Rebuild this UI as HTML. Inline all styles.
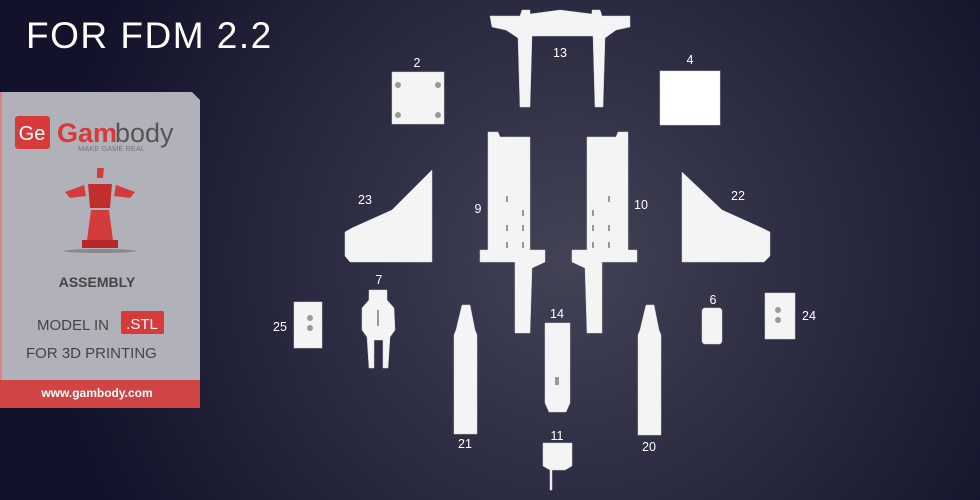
<!DOCTYPE html>
<html><head><meta charset="utf-8"><style>
body{margin:0;width:980px;height:500px;overflow:hidden;background:#15162a;font-family:"Liberation Sans",sans-serif}
svg{display:block}
</style></head><body>
<svg width="980" height="500" viewBox="0 0 980 500" xmlns="http://www.w3.org/2000/svg">
<defs>
<radialGradient id="bg" cx="570" cy="260" r="520" gradientUnits="userSpaceOnUse">
<stop offset="0" stop-color="#434356"/><stop offset="0.5" stop-color="#2a2a40"/><stop offset="1" stop-color="#12132a"/>
</radialGradient>
</defs>
<rect width="980" height="500" fill="url(#bg)"/>
<text x="26" y="48" fill="#fff" font-size="37" letter-spacing="1.5" font-family="Liberation Sans">FOR FDM 2.2</text>

<!-- left panel -->
<path d="M0 92 H192 L200 100 V400 L193 408 H0 Z" fill="#b1b2b9"/>
<rect x="0" y="92" width="2" height="316" fill="#e08080"/>
<rect x="0" y="380" width="200" height="28" fill="#d04444"/>
<text x="97" y="397" fill="#fff" font-size="12" font-weight="bold" text-anchor="middle">www.gambody.com</text>
<rect x="15" y="116" width="35" height="33" rx="3" fill="#d63a3a"/>
<text x="32" y="140" fill="#fff" font-size="20" text-anchor="middle">Ge</text>
<text x="57" y="142" fill="#d63a3a" font-size="27" font-weight="bold">Gam</text>
<text x="115" y="142" fill="#555" font-size="27">body</text>
<text x="78" y="151" fill="#777" font-size="7.5">MAKE GAME REAL</text>
<!-- figure -->
<g fill="#d43c3c">
<path d="M97 168 H104 L103 178 H97 Z"/>
<path d="M65 192 L84 185 L86 196 L70 198 Z"/>
<path d="M135 192 L116 185 L114 196 L130 198 Z"/>
<path d="M88 184 H112 L110 208 H90 Z" fill="#c02e2e"/>
<path d="M91 210 H109 L113 240 H87 Z"/>
<rect x="82" y="240" width="36" height="8" fill="#b82828"/>
</g>
<ellipse cx="100" cy="251" rx="36" ry="2" fill="#888"/>
<text x="97" y="287" fill="#444" font-size="14" font-weight="bold" text-anchor="middle">ASSEMBLY</text>
<text x="37" y="330" fill="#444" font-size="15">MODEL IN</text>
<rect x="121" y="311" width="43" height="23" rx="2" fill="#d63a3a"/>
<text x="142" y="329" fill="#fff" font-size="15" text-anchor="middle">.STL</text>
<text x="26" y="358" fill="#444" font-size="15">FOR 3D PRINTING</text>

<g fill="#f4f4f4" stroke="#d8d8d8" stroke-width="0.5">
<path d="M490 16 L520 16 L522 10 L530 10 L530 14 L560 10 L592 14 L592 10 L600 10 L602 16 L630 16 L630 27 L616 30 L605 38 L603 107 L595 107 L593 36 L532 36 L530 107 L520 107 L518 38 L506 30 L492 27 Z"/>
<rect x="392" y="72" width="52" height="52"/>
<rect x="660" y="71" width="60" height="54" fill="#fff"/>
<path d="M488 132 L498 132 L500 137 L530 137 L530 250 L545 250 L545 262 L532 268 L530 333 L515 333 L515 262 L480 262 L480 250 L488 250 Z"/>
<path d="M628 132 L618 132 L616 137 L587 137 L587 250 L572 250 L572 262 L585 268 L587 333 L602 333 L602 262 L637 262 L637 250 L628 250 Z"/>
<path d="M432 170 L432 262 L350 262 L345 256 L345 232 L352 228 L392 210 Z"/>
<path d="M682 172 L682 262 L764 262 L770 256 L770 232 L762 228 L722 210 Z"/>
<path d="M369 290 H387 V300 L394 308 L395 330 L390 337 L388 368 L383 368 L383 340 L374 340 L374 368 L369 368 L367 337 L362 330 L362 308 L369 300 Z"/>
<rect x="294" y="302" width="28" height="46"/>
<rect x="765" y="293" width="30" height="46"/>
<rect x="702" y="308" width="20" height="36" rx="3"/>
<path d="M462 305 L470 305 L475 330 L477 335 V434 H454 V335 L456 330 Z"/>
<path d="M646 305 L654 305 L659 330 L661 335 V435 H638 V335 L640 330 Z"/>
<path d="M545 323 H570 V403 L566 412 H549 L545 403 Z"/>
<path d="M543 443 H572 V466 L565 470 H552 V490 H550 V470 L543 466 Z"/>
</g>
<g fill="#999">
<circle cx="398" cy="85" r="3"/><circle cx="438" cy="85" r="3"/><circle cx="398" cy="115" r="3"/><circle cx="438" cy="115" r="3"/>
<rect x="506" y="196" width="2" height="6"/><rect x="522" y="210" width="2" height="6"/><rect x="506" y="225" width="2" height="6"/><rect x="522" y="225" width="2" height="6"/><rect x="506" y="242" width="2" height="6"/><rect x="522" y="242" width="2" height="6"/>
<rect x="608" y="196" width="2" height="6"/><rect x="592" y="210" width="2" height="6"/><rect x="608" y="225" width="2" height="6"/><rect x="592" y="225" width="2" height="6"/><rect x="608" y="242" width="2" height="6"/><rect x="592" y="242" width="2" height="6"/>
<circle cx="310" cy="318" r="3"/><circle cx="310" cy="328" r="3"/><circle cx="778" cy="310" r="3"/><circle cx="778" cy="320" r="3"/>
<rect x="555" y="377" width="4" height="8"/><rect x="377" y="310" width="2" height="16"/>
</g>
<g fill="#fff" font-size="12.5" text-anchor="middle" font-family="Liberation Sans">
<text x="560" y="57">13</text><text x="417" y="67">2</text><text x="690" y="64">4</text>
<text x="478" y="213">9</text><text x="641" y="209">10</text><text x="365" y="204">23</text><text x="738" y="200">22</text>
<text x="379" y="284">7</text><text x="280" y="331">25</text><text x="809" y="320">24</text><text x="713" y="304">6</text>
<text x="557" y="318">14</text><text x="465" y="448">21</text><text x="649" y="451">20</text><text x="557" y="440">11</text>
</g>
</svg>
</body></html>
